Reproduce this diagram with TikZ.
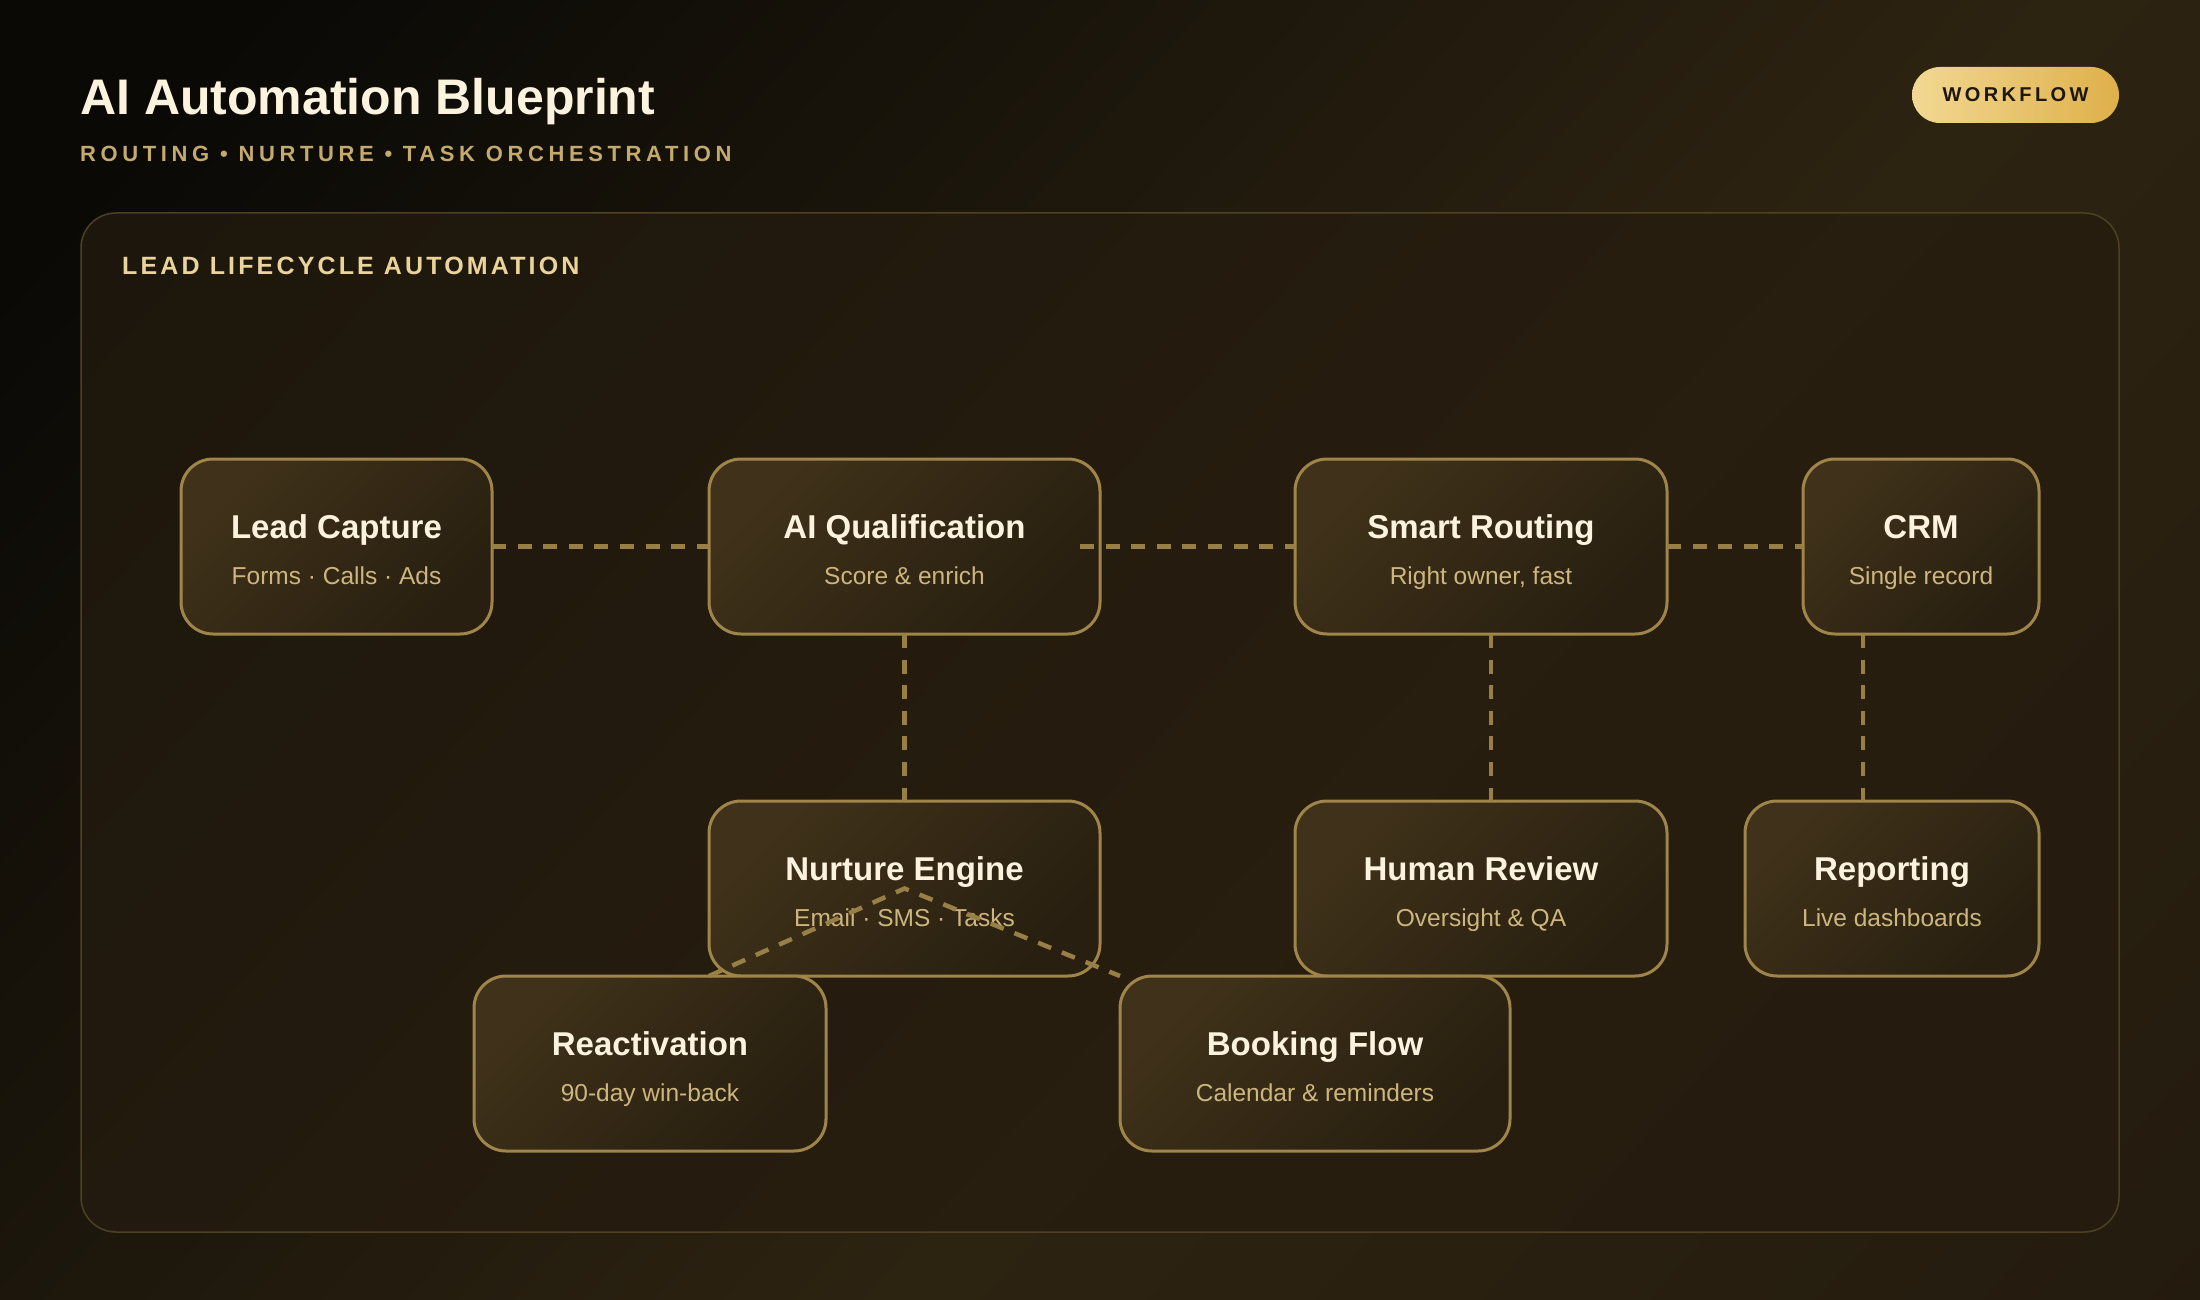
\documentclass[tikz,border=0pt]{standalone}
\usepackage{fontspec}
\setmainfont{Liberation Sans}
\usepackage{xcolor}
\usepackage{tikz}
\usetikzlibrary{positioning, calc}
\definecolor{bgdark}{RGB}{10, 9, 6}
\definecolor{bgwarm}{RGB}{45, 35, 17}
\definecolor{bgend}{RGB}{30, 23, 13}
\definecolor{panelbg}{RGB}{37, 28, 15}
\definecolor{panelborder}{RGB}{78, 64, 34}
\definecolor{nodelight}{RGB}{64, 50, 26}
\definecolor{nodedark}{RGB}{40, 31, 16}
\definecolor{gold}{RGB}{160, 133, 74}
\definecolor{linkgold}{RGB}{152, 127, 70}
\definecolor{cream}{RGB}{252, 243, 222}
\definecolor{muted}{RGB}{205, 182, 126}
\definecolor{headgold}{RGB}{197, 170, 110}
\definecolor{labelgold}{RGB}{234, 212, 155}
\definecolor{badgelight}{RGB}{242, 216, 147}
\definecolor{badgedark}{RGB}{222, 176, 74}
\definecolor{badgetext}{RGB}{30, 23, 9}
\pgfdeclarehorizontalshading{bgshade}{100bp}{color(0bp)=(bgdark); color(20bp)=(bgdark); color(58bp)=(bgwarm); color(100bp)=(bgend)}
\newcommand{\stagename}[1]{{\fontsize{33}{33}\selectfont\bfseries\color{cream}#1}}
\tikzset{
  stageblock/.style={
    rectangle, rounded corners=32pt, line width=3pt, draw=gold,
    top color=nodelight, bottom color=nodedark, shading angle=45,
    minimum height=175pt, inner sep=0pt, outer sep=0pt, align=center,
    text=muted, font=\fontsize{24.5}{46}\selectfont,
    text height=80pt, text depth=5pt
  },
  linkline/.style={
    draw=linkgold, line width=4.5pt, dash pattern=on 14pt off 11.6pt
  },
  panelbox/.style={
    rounded corners=35pt, draw=panelborder, line width=1.5pt,
    fill=panelbg, fill opacity=0.7
  },
  badgebox/.style={
    rectangle, rounded corners=28pt, minimum width=207pt, minimum height=56pt,
    left color=badgelight, right color=badgedark, text=badgetext,
    font=\fontsize{20}{20}\selectfont\bfseries\addfontfeature{LetterSpace=17}
  }
}

\begin{document}
\begin{tikzpicture}[x=1pt, y=1pt]

  % Canvas
  \useasboundingbox (0,0) rectangle (2200,-1300);
  \shade[shading=bgshade, shading angle=-42] (0,0) rectangle (2200,-1300);

  % Header
  \node[anchor=base west, inner sep=0pt, text=cream,
        font=\fontsize{50}{50}\selectfont\bfseries] (title) at (80,-115) {AI Automation Blueprint};
  \node[anchor=base west, inner sep=0pt, text=headgold,
        font=\fontsize{22}{22}\selectfont\bfseries\addfontfeature{LetterSpace=21}] (subtitle) at (80,-162) {ROUTING • NURTURE • TASK ORCHESTRATION};
  \node[badgebox] (badge) at (2015.5,-95) {WORKFLOW};

  % Panel
  \draw[panelbox] (81,-213) rectangle (2119,-1232);
  \node[anchor=base west, inner sep=0pt, text=labelgold,
        font=\fontsize{25}{25}\selectfont\bfseries\addfontfeature{LetterSpace=12.6}] (panellabel) at (122,-274) {LEAD LIFECYCLE AUTOMATION};

  % Row 1: Capture to CRM
  \node[stageblock, minimum width=311pt] (capture) at (336.5,-546.5) {
    \stagename{Lead Capture}\\
    Forms · Calls · Ads
  };
  \node[stageblock, minimum width=391pt, right=217pt of capture] (qualify) {
    \stagename{AI Qualification}\\
    Score \& enrich
  };
  \node[stageblock, minimum width=372pt, right=195pt of qualify] (routing) {
    \stagename{Smart Routing}\\
    Right owner, fast
  };
  \node[stageblock, minimum width=236pt, right=136pt of routing] (crm) {
    \stagename{CRM}\\
    Single record
  };

  % Row 2: Follow-up
  \node[stageblock, minimum width=391pt, below=167pt of qualify] (nurture) {
    \stagename{Nurture Engine}\\
    Email · SMS · Tasks
  };
  \node[stageblock, minimum width=372pt, below=167pt of routing] (review) {
    \stagename{Human Review}\\
    Oversight \& QA
  };
  \node[stageblock, minimum width=294pt, below=167pt of crm.south east, anchor=north east] (reporting) {
    \stagename{Reporting}\\
    Live dashboards
  };

  % Row 3: Outcomes
  \node[stageblock, minimum width=352pt, below=0pt of nurture, xshift=-254.5pt] (reactivation) {
    \stagename{Reactivation}\\
    90-day win-back
  };
  \node[stageblock, minimum width=390pt, below=0pt of nurture, xshift=410.5pt] (booking) {
    \stagename{Booking Flow}\\
    Calendar \& reminders
  };

  % Dashed links
  \draw[linkline] (capture) -- (qualify);
  \draw[linkline] ($(qualify.east)+(-20,0)$) -- (routing.west);
  \draw[linkline] (routing) -- (crm);
  \draw[linkline] (qualify) -- (nurture);
  \draw[linkline] ($(routing.south)+(10,0)$) -- ($(review.north)+(10,0)$);
  \draw[linkline] ($(crm.south)+(-58,0)$) -- ($(reporting.north)+(-29,0)$);
  \draw[linkline] (nurture.south west) -- (nurture.center) -- (booking.north west);

\end{tikzpicture}
\end{document}
